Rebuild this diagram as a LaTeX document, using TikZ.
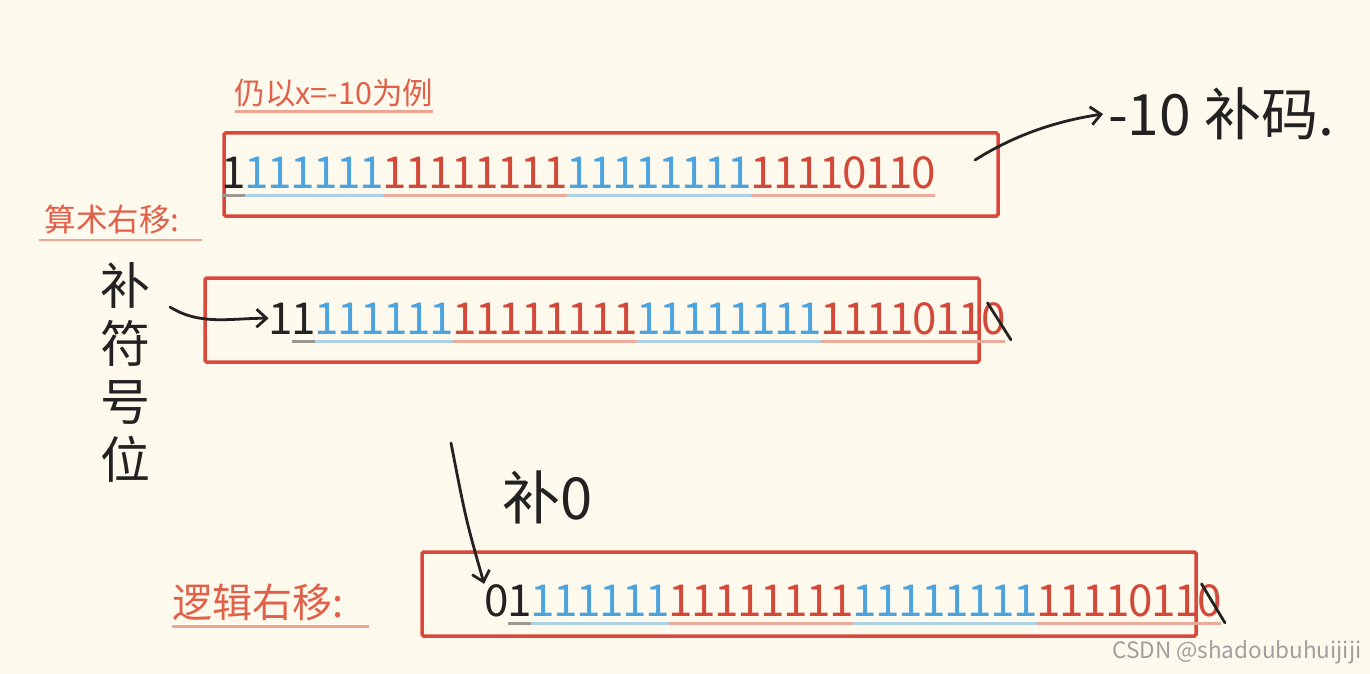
\documentclass[tikz,border=0pt]{standalone}
\usepackage{fontspec}
\setmainfont{Noto Sans CJK SC}
\usetikzlibrary{arrows.meta}

\definecolor{paper}{HTML}{FDF9EC}
\definecolor{frame}{HTML}{D9483B}
\definecolor{brick}{HTML}{D2493A}
\definecolor{sky}{HTML}{4CA3DD}
\definecolor{ink}{HTML}{222222}
\definecolor{heading}{HTML}{E0604A}

% one coloured run of bits with its underline
\newcommand{\bitgroup}[5]{%
  \foreach \d [count=\i] in {#5} {
    \node[bit, text=#4] (#1\i) at ({#2+(\i-0.5)*23}, #3) {\d};
    \xdef\bitcount{\i}
  }
  \draw[line width=3pt, #4!45!paper] (#2, #3+7) -- ++(\bitcount*23, 0);
}

\begin{document}
\begin{tikzpicture}[
    x=1pt, y=-1pt,
    bit/.style={anchor=base, inner sep=0pt, font=\fontsize{44}{44}\selectfont},
    frame/.style={draw=frame, line width=3.5pt, rounded corners=1.5pt},
    heading/.style={text=heading, inner sep=0pt},
    uline/.style={draw=heading!55!paper, line width=2.5pt},
    hand/.style={draw=ink, line width=2.8pt, line cap=round, line join=round},
    handarrow/.style={hand, -{Straight Barb[length=10pt,width=18pt]}},
    note/.style={text=ink, align=center}
]

\fill[paper] (0,0) rectangle (1370,674);
\useasboundingbox (0,0) rectangle (1370,674);

% Headings
\node[heading, font=\fontsize{30.5}{30}\selectfont] (title) at (334,93) {仍以x=-10为例};
\draw[uline] ([shift={(0,4)}]title.south west) -- ([shift={(0,4)}]title.south east);

\node[heading, font=\fontsize{31.5}{30}\selectfont] (arith) at (112,220) {算术右移:};
\draw[uline] ([shift={(-5,5)}]arith.south west) -- ([shift={(22,5)}]arith.south east);

\node[heading, font=\fontsize{40}{38}\selectfont] (logic) at (258,602) {逻辑右移:};
\draw[uline] ([shift={(0,6)}]logic.south west) -- ([shift={(25,6)}]logic.south east);

% Frames
\node[frame, minimum width=774, minimum height=83] (box1) at (611,174.5) {};
\node[frame, minimum width=774, minimum height=84] (box2) at (592,320) {};
\node[frame, minimum width=774, minimum height=84] (box3) at (809,594) {};

% Row 1: -10
\bitgroup{r1a}{222}{188}{ink}{1}
\bitgroup{r1b}{245}{188}{sky}{1,1,1,1,1,1}
\bitgroup{r1c}{383}{188}{brick}{1,1,1,1,1,1,1,1}
\bitgroup{r1d}{567}{188}{sky}{1,1,1,1,1,1,1,1}
\bitgroup{r1e}{751}{188}{brick}{1,1,1,1,0,1,1,0}

% Row 2: arithmetic shift
\node[bit, text=ink] (r2s) at (281,334) {1};
\bitgroup{r2a}{292}{334}{ink}{1}
\bitgroup{r2b}{315}{334}{sky}{1,1,1,1,1,1}
\bitgroup{r2c}{453}{334}{brick}{1,1,1,1,1,1,1,1}
\bitgroup{r2d}{637}{334}{sky}{1,1,1,1,1,1,1,1}
\bitgroup{r2e}{821}{334}{brick}{1,1,1,1,0,1,1,0}

% Row 3: logical shift
\node[bit, text=ink] (r3s) at (496.5,616) {0};
\bitgroup{r3a}{508}{616}{ink}{1}
\bitgroup{r3b}{531}{616}{sky}{1,1,1,1,1,1}
\bitgroup{r3c}{669}{616}{brick}{1,1,1,1,1,1,1,1}
\bitgroup{r3d}{853}{616}{sky}{1,1,1,1,1,1,1,1}
\bitgroup{r3e}{1037}{616}{brick}{1,1,1,1,0,1,1,0}

% Handwritten notes
\node[note, anchor=west, inner sep=5pt, font=\fontsize{57}{57}\selectfont] (note1) at (1103,114) {-10 补码.};
\node[note, font=\fontsize{50}{58}\selectfont] (note2) at (125,372) {补\\符\\号\\位};
\node[note, font=\fontsize{58}{58}\selectfont] (note3) at (548,497) {补0};

\coordinate (c1) at (975,160);
\coordinate (c2) at (170,307);
\coordinate (c3) at (451,443);

% Arrows
\draw[handarrow] (c1) .. controls (1010,138) and (1050,122) .. (note1.west);
\draw[handarrow] (c2) .. controls (200,326) and (232,318) .. (r2s.west);
\draw[handarrow] (c3) .. controls (466,520) .. (r3s.north west);

% Dropped bits
\draw[hand] ([shift={(-6,1)}]r2e8.north) -- ([shift={(5,5)}]r2e8.south east);
\draw[hand] ([shift={(-8,0)}]r3e8.north) -- ([shift={(3,6)}]r3e8.south east);

% Watermark
\node[anchor=east, text=gray!75, font=\fontsize{22.5}{22}\selectfont] (mark) at (1365,652) {CSDN @shadoubuhuijiji};

\end{tikzpicture}
\end{document}
